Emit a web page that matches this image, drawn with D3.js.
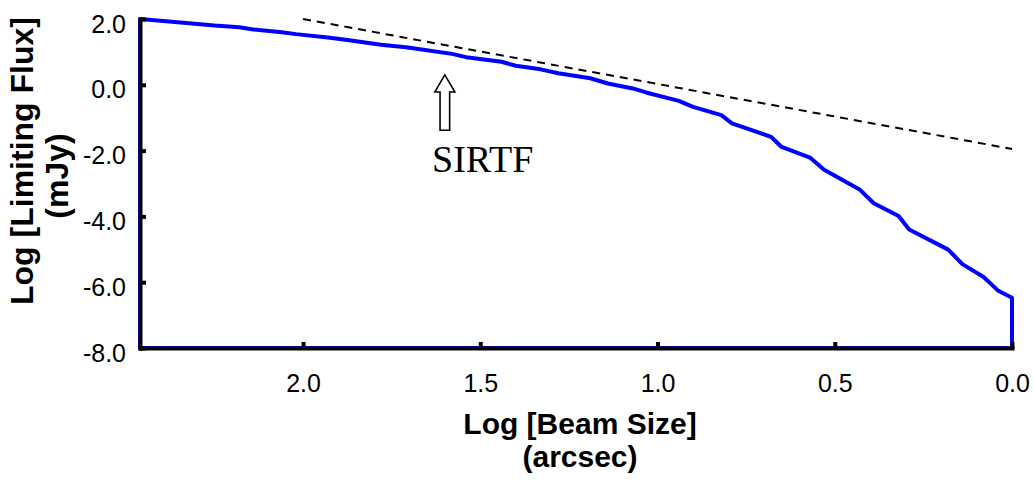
<!DOCTYPE html>
<html>
<head>
<meta charset="utf-8">
<script src="https://cdn.jsdelivr.net/npm/d3@7"></script>
<style>
  body { margin: 0; background: #fff; }
  svg { display: block; }
  .tick text { font-family: "Liberation Sans", Arial, sans-serif; font-size: 25px; fill: #000; }
  .title { font-family: "Liberation Sans", Arial, sans-serif; font-size: 32px; font-weight: bold; fill: #000; }
</style>
</head>
<body>
<svg width="1034" height="481"></svg>
<script>
// log beam size (arcsec) vs log limiting flux (mJy)
var beamLog = [2.46, 2.37, 2.25, 2.18, 2.14, 2.06, 2.02, 1.93, 1.88, 1.78, 1.71, 1.67, 1.58, 1.54,
               1.44, 1.40, 1.33, 1.28, 1.19, 1.14, 1.07, 1.03, 0.94, 0.90, 0.82, 0.79, 0.68, 0.65,
               0.57, 0.53, 0.43, 0.39, 0.32, 0.29, 0.18, 0.14, 0.08, 0.04, 0.00, 0.00];
var fluxLog = [2.00, 1.92, 1.80, 1.75, 1.68, 1.60, 1.54, 1.44, 1.37, 1.22, 1.14, 1.08, 0.94, 0.84,
               0.70, 0.58, 0.47, 0.35, 0.20, 0.04, -0.11, -0.24, -0.49, -0.67, -0.92, -1.17, -1.58, -1.89,
               -2.21, -2.58, -3.18, -3.60, -3.99, -4.40, -5.01, -5.45, -5.84, -6.25, -6.47, -8.00];

// dashed reference slope
var refBeam = [2.0, 0.0];
var refFlux = [2.0, -1.95];

var xTicks = [2.0, 1.5, 1.0, 0.5, 0.0];
var yTicks = [2.0, 0.0, -2.0, -4.0, -6.0, -8.0];

var sirtf = {label: "SIRTF", beam: 1.60, tip: 0.30, tail: -1.38, textBeam: 1.636, textFlux: -2.65};

var svg = d3.select("svg");

var x = d3.scaleLinear().domain([2.46, 0]).range([140, 1012]);
var y = d3.scaleLinear().domain([-8, 2]).range([348, 19]);

var pts = beamLog.map(function(b, i) { return [b, fluxLog[i]]; });
pts.push([2.46, -8]);

var line = d3.line()
    .x(function(d) { return x(d[0]); })
    .y(function(d) { return y(d[1]); });

svg.append("path")
    .attr("d", line(pts) + "Z")
    .attr("fill", "none")
    .attr("stroke", "#0000ff")
    .attr("stroke-width", 4)
    .attr("stroke-linejoin", "round");

svg.append("path")
    .attr("d", line(refBeam.map(function(b, i) { return [b, refFlux[i]]; })))
    .attr("fill", "none")
    .attr("stroke", "#000")
    .attr("stroke-width", 2)
    .attr("stroke-dasharray", "8,6");

// axes, ticks pointing inward
var xAxis = svg.append("g")
    .attr("transform", "translate(0," + y(-8) + ")")
    .call(d3.axisBottom(x).tickValues(xTicks).tickFormat(d3.format(".1f"))
      .tickSizeInner(-6).tickSizeOuter(0).tickPadding(26));

var yAxis = svg.append("g")
    .attr("transform", "translate(" + x(2.46) + ",0)")
    .call(d3.axisLeft(y).tickValues(yTicks).tickFormat(function(d) { return d3.format(".1f")(d).replace("−", "-"); })
      .tickSizeInner(-6).tickSizeOuter(0).tickPadding(14));

yAxis.selectAll(".tick text").attr("dy", "0.52em");

[xAxis, yAxis].forEach(function(a) {
  a.select(".domain").attr("stroke", "#000").attr("stroke-width", 4).attr("stroke-linecap", "square");
  a.selectAll(".tick line").attr("stroke", "#000").attr("stroke-width", 4);
});

// SIRTF arrow (hollow block arrow)
var ax = x(sirtf.beam), aTip = y(sirtf.tip), aTail = y(sirtf.tail);
var headH = 17, headW = 10, shaftW = 4.8;
svg.append("path")
    .attr("d", "M" + ax + "," + aTip +
      "L" + (ax + headW) + "," + (aTip + headH) +
      "L" + (ax + shaftW) + "," + (aTip + headH) +
      "L" + (ax + shaftW) + "," + aTail +
      "L" + (ax - shaftW) + "," + aTail +
      "L" + (ax - shaftW) + "," + (aTip + headH) +
      "L" + (ax - headW) + "," + (aTip + headH) + "Z")
    .attr("fill", "#fff")
    .attr("stroke", "#000")
    .attr("stroke-width", 1.6);

svg.append("text")
    .attr("x", x(sirtf.textBeam))
    .attr("y", y(sirtf.textFlux))
    .attr("font-family", "'Liberation Serif', 'Times New Roman', serif")
    .attr("font-size", 38)
    .text(sirtf.label);

// axis titles
var xt = svg.append("text").attr("class", "title").attr("text-anchor", "middle")
    .style("font-size", "30px");
xt.append("tspan").attr("x", 580).attr("y", 434).text("Log [Beam Size]");
xt.append("tspan").attr("x", 580).attr("y", 467).text("(arcsec)");

var yt = svg.append("text").attr("class", "title").attr("text-anchor", "middle")
    .attr("transform", "rotate(-90)");
yt.append("tspan").attr("x", -161).attr("y", 33).text("Log [Limiting Flux]");
yt.append("tspan").attr("x", -176).attr("y", 68).text("(mJy)");
</script>
</body>
</html>
